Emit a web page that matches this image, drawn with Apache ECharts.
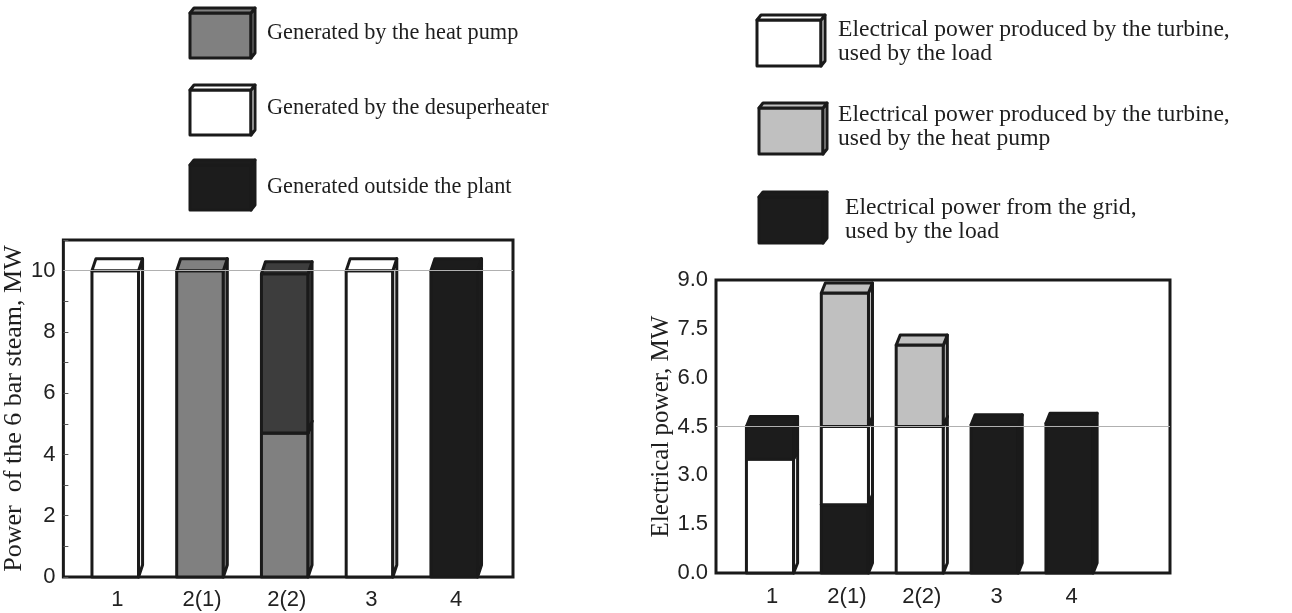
<!DOCTYPE html>
<html>
<head>
<meta charset="utf-8">
<script src="https://cdn.jsdelivr.net/npm/echarts@6/dist/echarts.min.js"></script>
<style>
  html, body { margin: 0; padding: 0; background: #fff; }
  #main { width: 1292px; height: 613px; }
</style>
</head>
<body>
<div id="main"></div>
<script>
// categories (same for both panels)
var categories = ['1', '2(1)', '2(2)', '3', '4'];

// left panel: power of the 6 bar steam, MW
var heatPumpL = [0, 10, 4.7, 0, 0];
var desuperheaterL = [10, 0, 0, 10, 0];
var outsideL = [0, 0, 5.2, 0, 10];
var yTicksL = [0, 2, 4, 6, 8, 10];

// right panel: electrical power, MW
var turbineLoadR = [3.5, 2.4, 4.5, 0, 0];
var turbineHpR = [0, 4.1, 2.5, 0, 0];
var gridR = [1.0, 2.1, 0, 4.55, 4.6];
// stacking order bottom -> top, 0 = turbine/load, 1 = turbine/heat pump, 2 = grid
var orderR = [[0, 2], [2, 0, 1], [0, 1], [2], [2]];
var yTicksR = [0, 1.5, 3.0, 4.5, 6.0, 7.5, 9.0];

var INK = '#1a1a1a';
var BLACK = '#1c1c1c';
var colorsL = ['#808080', '#ffffff', BLACK];
var colorsR = ['#ffffff', '#c0c0c0', BLACK];

function box3d(x, y, w, h, dx, dy, fill, lw) {
    var st = { fill: fill, stroke: INK, lineWidth: lw || 3, lineJoin: 'round' };
    return {
        type: 'group',
        children: [
            { type: 'polygon', shape: { points: [[x, y], [x + w, y], [x + w, y + h], [x, y + h]] }, style: st },
            { type: 'polygon', shape: { points: [[x + w, y], [x + w + dx, y - dy], [x + w + dx, y + h - dy], [x + w, y + h]] }, style: st },
            { type: 'polygon', shape: { points: [[x, y], [x + dx, y - dy], [x + w + dx, y - dy], [x + w, y]] }, style: st }
        ]
    };
}

// build stacked segments [x, lo, hi, seriesIdx]
var segL = [];
var seriesL = [heatPumpL, desuperheaterL, outsideL];
categories.forEach(function (c, i) {
    var cum = 0;
    for (var s = 0; s < seriesL.length; s++) {
        var v = seriesL[s][i];
        if (v > 0) { segL.push([i + 1, cum, cum + v, s]); cum += v; }
    }
});
var segR = [];
var seriesR = [turbineLoadR, turbineHpR, gridR];
categories.forEach(function (c, i) {
    var cum = 0;
    orderR[i].forEach(function (s) {
        var v = seriesR[s][i];
        if (v > 0) { segR.push([i + 1, cum, cum + v, s]); cum += v; }
    });
});

function makeRender(dx, dy, widthUnits, colors, special) {
    return function (params, api) {
        var x = api.value(0), lo = api.value(1), hi = api.value(2), s = api.value(3);
        var p0 = api.coord([x, lo]);
        var p1 = api.coord([x, hi]);
        var w = api.size([widthUnits, 0])[0];
        var left = p0[0] - (w + dx) / 2;
        var fill = colors[s];
        if (special && special[x + '_' + s]) fill = special[x + '_' + s];
        return box3d(left, p1[1], w, p0[1] - p1[1], dx, dy, fill);
    };
}

var axisFont = '"Liberation Sans", Arial, sans-serif';
var serif = '"Liberation Serif", "Times New Roman", serif';

function catFormatter(v) {
    return Number.isInteger(v) ? (categories[v - 1] || '') : '';
}

var chart = echarts.init(document.getElementById('main'));

var legendGraphics = [];
// left legend
[['#808080', 13, 'Generated by the heat pump', 33],
 ['#ffffff', 90, 'Generated by the desuperheater', 108],
 [BLACK, 165, 'Generated outside the plant', 187]].forEach(function (it) {
    legendGraphics.push(box3d(190, it[1], 61, 45, 4, 5, it[0]));
    legendGraphics.push({
        type: 'text', x: 267, y: it[3],
        style: { text: it[2], font: '22.3px ' + serif, fill: '#1e1e1e', verticalAlign: 'middle' }
    });
});
// right legend
[['#ffffff', 757, 20, 'Electrical power produced by the turbine,\nused by the load', 838, 42],
 ['#c0c0c0', 759, 108, 'Electrical power produced by the turbine,\nused by the heat pump', 838, 127],
 [BLACK, 759, 197, 'Electrical power from the grid,\nused by the load', 845, 220]].forEach(function (it) {
    legendGraphics.push(box3d(it[1], it[2], 64, 46, 4, 5, it[0]));
    legendGraphics.push({
        type: 'text', x: it[4], y: it[5],
        style: { text: it[3], font: '23.6px ' + serif, fill: '#1e1e1e', verticalAlign: 'middle', lineHeight: 24 }
    });
});

var option = {
    animation: false,
    backgroundColor: '#fff',
    grid: [
        { left: 58, right: 779, top: 240, bottom: 36, show: true, borderColor: INK, borderWidth: 3 },
        { left: 716, right: 122, top: 280, bottom: 40, show: true, borderColor: INK, borderWidth: 3 }
    ],
    xAxis: [
        {
            type: 'value', gridIndex: 0, min: 0.364, max: 5.67, minInterval: 1, maxInterval: 1,
            axisLine: { show: false }, axisTick: { show: false }, splitLine: { show: false },
            axisLabel: { formatter: catFormatter, showMinLabel: false, showMaxLabel: false, margin: 12,
                fontFamily: axisFont, fontSize: 22, color: '#222' }
        },
        {
            type: 'value', gridIndex: 1, min: 0.252, max: 6.315, minInterval: 1, maxInterval: 1,
            axisLine: { show: false }, axisTick: { show: false }, splitLine: { show: false },
            axisLabel: { formatter: catFormatter, showMinLabel: false, showMaxLabel: false, margin: 13,
                fontFamily: axisFont, fontSize: 22, color: '#222' }
        }
    ],
    yAxis: [
        {
            type: 'value', gridIndex: 0, min: 0, max: 11, interval: 1,
            name: 'Power  of the 6 bar steam, MW', nameLocation: 'middle', nameGap: 22,
            nameTextStyle: { fontFamily: serif, fontSize: 26, color: '#1e1e1e' },
            axisLine: { show: false }, splitLine: { show: false },
            axisTick: { show: true, inside: true, length: 5, lineStyle: { color: '#555' } },
            axisLabel: {
                interval: 0, margin: 8, fontFamily: axisFont, fontSize: 22, color: '#222',
                formatter: function (v) { return yTicksL.indexOf(v) >= 0 ? String(v) : ''; }
            }
        },
        {
            type: 'value', gridIndex: 1, min: 0, max: 9, interval: 1.5,
            name: 'Electrical power, MW', nameLocation: 'middle', nameGap: 41,
            nameTextStyle: { fontFamily: serif, fontSize: 25, color: '#1e1e1e' },
            axisLine: { show: false }, splitLine: { show: false }, axisTick: { show: false },
            axisLabel: {
                interval: 0, margin: 8, fontFamily: axisFont, fontSize: 22, color: '#222',
                formatter: function (v) { return yTicksR.indexOf(v) >= 0 ? v.toFixed(1) : ''; }
            }
        }
    ],
    graphic: legendGraphics,
    series: [
        {
            type: 'line', xAxisIndex: 0, yAxisIndex: 0, data: [], z: 1,
            markLine: { silent: true, symbol: 'none', label: { show: false },
                lineStyle: { color: '#b0b0b0', width: 1, type: 'solid' }, data: [{ yAxis: 10 }] }
        },
        {
            type: 'line', xAxisIndex: 1, yAxisIndex: 1, data: [], z: 1,
            markLine: { silent: true, symbol: 'none', label: { show: false },
                lineStyle: { color: '#b0b0b0', width: 1, type: 'solid' }, data: [{ yAxis: 4.5 }] }
        },
        {
            type: 'custom', xAxisIndex: 0, yAxisIndex: 0, z: 3, clip: false,
            renderItem: makeRender(4, 12, 0.55, colorsL, { '3_2': '#3d3d3d' }),
            encode: { x: 0, y: [1, 2] },
            data: segL
        },
        {
            type: 'custom', xAxisIndex: 1, yAxisIndex: 1, z: 3, clip: false,
            renderItem: makeRender(4, 10, 0.63, colorsR),
            encode: { x: 0, y: [1, 2] },
            data: segR
        }
    ]
};
chart.setOption(option);
</script>
</body>
</html>
